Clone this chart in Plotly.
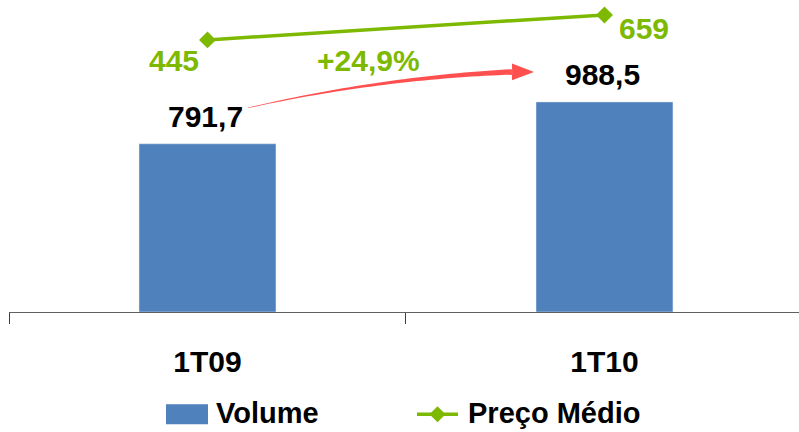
import numpy as np
import plotly.graph_objects as go

# Quarterly volume and average price
periods = ["1T09", "1T10"]
volume = [791.7, 988.5]
preco_medio = [445, 659]
growth_label = "+24,9%"

BLUE = "#4F81BD"
GREEN = "#7DB900"
RED = "#FF5050"
FONT = "Liberation Sans, Arial, sans-serif"
FS = 30

W, H = 799, 432
ML, MR, MT, MB = 9, 0, 0, 119.5
PW, PH = W - ML - MR, H - MT - MB


def fmt(v, nd=1):
    return f"{v:.{nd}f}".replace(".", ",")


def px2paper(px, py):
    return (px - ML) / PW, 1 - (py - MT) / PH


fig = go.Figure()
fig.add_trace(go.Bar(
    x=periods, y=volume, name="Volume", marker_color=BLUE,
    width=0.345, showlegend=False,
))
fig.add_trace(go.Scatter(
    x=periods, y=preco_medio, name="Preço Médio", yaxis="y2",
    mode="lines+markers", line=dict(color=GREEN, width=3.5),
    marker=dict(symbol="diamond", size=13, color=GREEN),
    showlegend=False, cliponaxis=False,
))

annotations = []
# value labels above the bars
for p, v in zip(periods, volume):
    annotations.append(dict(
        x=p, y=v, xref="x", yref="y", text=fmt(v), showarrow=False,
        yanchor="middle", yshift=27, xshift=-2,
        font=dict(family=FONT, size=FS, color="black", weight="bold"),
    ))
# price labels next to the markers
price_shifts = [(-33, -21), (40, -14)]
for p, v, (dx, dy) in zip(periods, preco_medio, price_shifts):
    annotations.append(dict(
        x=p, y=v, xref="x", yref="y2", text=str(v), showarrow=False,
        xshift=dx, yshift=dy, yanchor="middle",
        font=dict(family=FONT, size=FS, color=GREEN, weight="bold"),
    ))
# growth label
gx, gy = px2paper(368.5, 61)
annotations.append(dict(
    x=gx, y=gy, xref="paper", yref="paper", text=growth_label,
    showarrow=False, yanchor="middle",
    font=dict(family=FONT, size=FS, color=GREEN, weight="bold"),
))

# tapered curved growth arrow
p0 = np.array([248.0, 108.0])
p1 = np.array([380.0, 78.0])
p2 = np.array([512.0, 72.0])
t = np.linspace(0, 1, 40)[:, None]
pts = (1 - t) ** 2 * p0 + 2 * (1 - t) * t * p1 + t ** 2 * p2
d = 2 * (1 - t) * (p1 - p0) + 2 * t * (p2 - p1)
nrm = np.stack([-d[:, 1], d[:, 0]], axis=1)
nrm /= np.linalg.norm(nrm, axis=1, keepdims=True)
half = (0.3 + 2.4 * t[:, 0])[:, None]
upper = pts + nrm * half
lower = pts - nrm * half
poly = np.vstack([upper, [[512, 63.5], [534, 72], [512, 80.5]], lower[::-1]])
path = "M " + " L ".join(
    f"{px2paper(x, y)[0]:.5f},{px2paper(x, y)[1]:.5f}" for x, y in poly
) + " Z"
shapes = [dict(type="path", path=path, xref="paper", yref="paper",
               fillcolor=RED, line=dict(width=0), layer="above")]

# legend drawn at the bottom
LEG_Y = 415
lx0, ly0 = px2paper(166, LEG_Y - 10)
lx1, ly1 = px2paper(208, LEG_Y + 10)
shapes.append(dict(type="rect", xref="paper", yref="paper",
                   x0=lx0, y0=ly0, x1=lx1, y1=ly1,
                   fillcolor=BLUE, line=dict(width=0)))
sx0, sy = px2paper(417, LEG_Y)
sx1, _ = px2paper(458, LEG_Y)
shapes.append(dict(type="line", xref="paper", yref="paper",
                   x0=sx0, y0=sy, x1=sx1, y1=sy,
                   line=dict(color=GREEN, width=3.5)))
dcx, dcy = 437.5, LEG_Y
dpts = [(dcx, dcy - 8), (dcx + 8, dcy), (dcx, dcy + 8), (dcx - 8, dcy)]
dpath = "M " + " L ".join(
    f"{px2paper(x, y)[0]:.5f},{px2paper(x, y)[1]:.5f}" for x, y in dpts
) + " Z"
shapes.append(dict(type="path", path=dpath, xref="paper", yref="paper",
                   fillcolor=GREEN, line=dict(width=0)))
for txt, lx in (("Volume", 214), ("Preço Médio", 466)):
    ax_, ay_ = px2paper(lx, 414)
    annotations.append(dict(
        x=ax_, y=ay_, xref="paper", yref="paper", text=txt,
        showarrow=False, xanchor="left", yanchor="middle",
        font=dict(family=FONT, size=29, color="black", weight="bold"),
    ))

fig.update_layout(
    width=W, height=H,
    margin=dict(l=ML, r=MR, t=MT, b=MB, pad=0),
    paper_bgcolor="white", plot_bgcolor="white",
    showlegend=False,
    xaxis=dict(
        range=[-0.5, 1.49], showgrid=False, zeroline=False,
        showline=True, linecolor="#606060", linewidth=1,
        ticks="outside", tickson="boundaries", ticklen=11,
        tickcolor="#404040", tickwidth=1,
        tickfont=dict(family=FONT, size=FS, color="black", weight="bold"),
        ticklabelstandoff=23,
    ),
    yaxis=dict(range=[0, 1468], visible=False),
    yaxis2=dict(range=[-1888, 787], overlaying="y", visible=False),
    annotations=annotations,
    shapes=shapes,
)

fig.write_html("out.html")
